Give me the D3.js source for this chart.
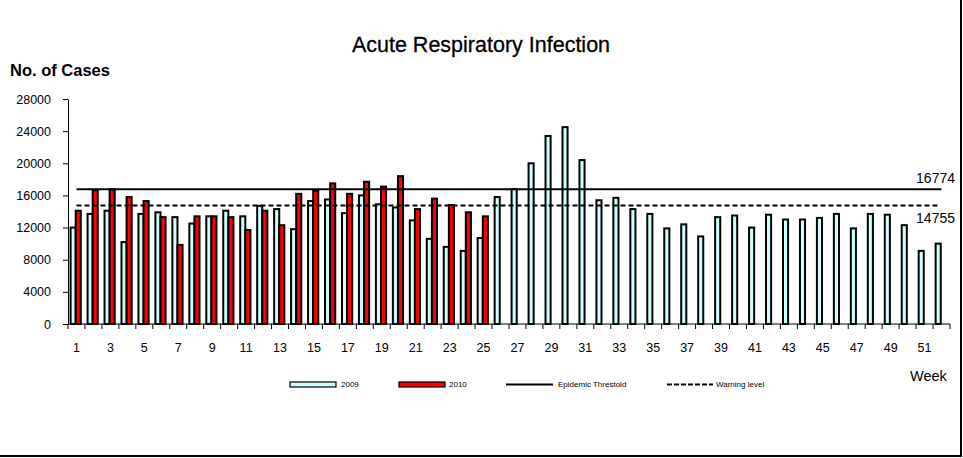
<!DOCTYPE html>
<html>
<head>
<meta charset="utf-8">
<script src="https://cdn.jsdelivr.net/npm/d3@7"></script>
<style>
  body { margin: 0; background: #fff; }
  svg { display: block; font-family: "Liberation Sans", Arial, sans-serif; }
</style>
</head>
<body>
<div id="graf"></div>
<script>
// Datos
const semanas = d3.range(1, 53)
const casos2009 = [12000, 13700, 14100, 10200, 13700, 13900, 13300, 12500, 13400, 14100,
  13400, 14700, 14300, 11800, 15300, 15500, 13800, 16000, 14900, 14500,
  12900, 10600, 9600, 9100, 10700, 15800, 16800, 20000, 23400, 24500,
  20400, 15400, 15700, 14300, 13700, 11900, 12400, 10900, 13300, 13500,
  12000, 13600, 13000, 13000, 13200, 13700, 11900, 13700, 13600, 12300,
  9100, 10000]
const casos2010 = [14100, 16650, 16750, 15800, 15300, 13300, 9850, 13400, 13400, 13300,
  11700, 14100, 12300, 16200, 16600, 17500, 16200, 17700, 17100, 18400,
  14300, 15600, 14800, 13900, 13400]
const umbralEpidemico = 16774
const nivelAlerta = 14755
const ticksY = [0, 4000, 8000, 12000, 16000, 20000, 24000, 28000]

const ancho = 963
const alto = 458

const svg = d3.select('#graf')
  .append('svg')
  .attr('width', ancho)
  .attr('height', alto)

// Marco (sólo se ven el borde derecho e inferior)
svg.append('rect')
  .attr('x', -2).attr('y', -2)
  .attr('width', 963).attr('height', 458)
  .attr('fill', 'none')
  .attr('stroke', '#000')
  .attr('stroke-width', 2)

// Título
svg.append('text')
  .attr('x', 481).attr('y', 52)
  .attr('text-anchor', 'middle')
  .attr('font-size', 21.5)
  .attr('stroke', '#000')
  .attr('stroke-width', 0.3)
  .text('Acute Respiratory Infection')

svg.append('text')
  .attr('x', 10).attr('y', 76)
  .attr('font-size', 16.5)
  .attr('font-weight', 'bold')
  .text('No. of Cases')

// Escalas
const xScale = d3.scaleBand()
  .domain(semanas)
  .range([68, 950])
  .padding(0)

const serieScale = d3.scaleBand()
  .domain(['2009', '2010'])
  .range([2.6, 12.8])

const yScale = d3.scaleLinear()
  .domain([0, 28000])
  .range([324, 99])

// Eje Y
const yAxis = svg.append('g')
  .attr('transform', 'translate(68, 0)')
  .call(d3.axisLeft(yScale).tickValues(ticksY).tickSize(5).tickSizeOuter(0).tickFormat(d3.format('d')))
yAxis.selectAll('text').attr('font-size', 12.5).attr('fill', '#000').attr('x', -17)
yAxis.selectAll('path, line').attr('stroke', '#000')

// Eje X
const xAxis = svg.append('g')
  .attr('transform', 'translate(0, 324)')
  .call(d3.axisBottom(xScale).tickSize(0).tickFormat(d => d % 2 === 1 ? d : ''))
xAxis.select('path').attr('stroke', '#000').attr('d', 'M68,0H950')
xAxis.selectAll('text').attr('font-size', 12.5).attr('fill', '#000').attr('dy', '1.2em').attr('y', 13)

// Marcas en los límites de cada semana
svg.append('g')
  .selectAll('line')
  .data(semanas.concat([53]))
  .enter()
  .append('line')
  .attr('x1', d => d <= 52 ? xScale(d) : xScale(52) + xScale.bandwidth())
  .attr('x2', d => d <= 52 ? xScale(d) : xScale(52) + xScale.bandwidth())
  .attr('y1', 324).attr('y2', 329)
  .attr('stroke', '#000')

// Barras
svg.append('g')
  .selectAll('rect')
  .data(casos2009)
  .enter()
  .append('rect')
  .attr('x', (d, i) => xScale(semanas[i]) + serieScale('2009'))
  .attr('y', d => yScale(d))
  .attr('width', serieScale.bandwidth())
  .attr('height', d => yScale(0) - yScale(d))
  .attr('fill', '#ccffff')
  .attr('stroke', '#000')
  .attr('stroke-width', 2)

svg.append('g')
  .selectAll('rect')
  .data(casos2010)
  .enter()
  .append('rect')
  .attr('x', (d, i) => xScale(semanas[i]) + serieScale('2010'))
  .attr('y', d => yScale(d))
  .attr('width', serieScale.bandwidth())
  .attr('height', d => yScale(0) - yScale(d))
  .attr('fill', '#ff0000')
  .attr('stroke', '#000')
  .attr('stroke-width', 2)

// Umbral epidémico y nivel de alerta
const xIni = xScale(1) + xScale.bandwidth() / 2
const xFin = xScale(52) + xScale.bandwidth() / 2

svg.append('line')
  .attr('x1', xIni).attr('x2', xFin)
  .attr('y1', yScale(umbralEpidemico)).attr('y2', yScale(umbralEpidemico))
  .attr('stroke', '#000').attr('stroke-width', 2)

svg.append('line')
  .attr('x1', xIni).attr('x2', xFin - 2)
  .attr('y1', yScale(nivelAlerta)).attr('y2', yScale(nivelAlerta))
  .attr('stroke', '#000').attr('stroke-width', 2)
  .attr('stroke-dasharray', '5,3')

svg.append('text')
  .attr('x', 955).attr('y', yScale(umbralEpidemico) - 6)
  .attr('text-anchor', 'end')
  .attr('font-size', 14)
  .text(umbralEpidemico)

svg.append('text')
  .attr('x', 955).attr('y', yScale(nivelAlerta) + 18)
  .attr('text-anchor', 'end')
  .attr('font-size', 14)
  .text(nivelAlerta)

svg.append('text')
  .attr('x', 910).attr('y', 381)
  .attr('font-size', 14.5)
  .text('Week')

// Leyenda
const leyenda = svg.append('g').attr('font-size', 8)

leyenda.append('rect')
  .attr('x', 290).attr('y', 382).attr('width', 46).attr('height', 5)
  .attr('fill', '#ccffff').attr('stroke', '#000').attr('stroke-width', 1.2)
leyenda.append('text').attr('x', 341).attr('y', 387).text('2009')

leyenda.append('rect')
  .attr('x', 399).attr('y', 382).attr('width', 46).attr('height', 5)
  .attr('fill', '#ff0000').attr('stroke', '#000').attr('stroke-width', 1.2)
leyenda.append('text').attr('x', 449).attr('y', 387).text('2010')

leyenda.append('line')
  .attr('x1', 506).attr('x2', 553).attr('y1', 384.5).attr('y2', 384.5)
  .attr('stroke', '#000').attr('stroke-width', 2)
leyenda.append('text').attr('x', 558).attr('y', 387).text('Epidemic Threstold')

leyenda.append('line')
  .attr('x1', 667).attr('x2', 713).attr('y1', 384.5).attr('y2', 384.5)
  .attr('stroke', '#000').attr('stroke-width', 2)
  .attr('stroke-dasharray', '5,2')
leyenda.append('text').attr('x', 716).attr('y', 387).text('Warning level')
</script>
</body>
</html>
